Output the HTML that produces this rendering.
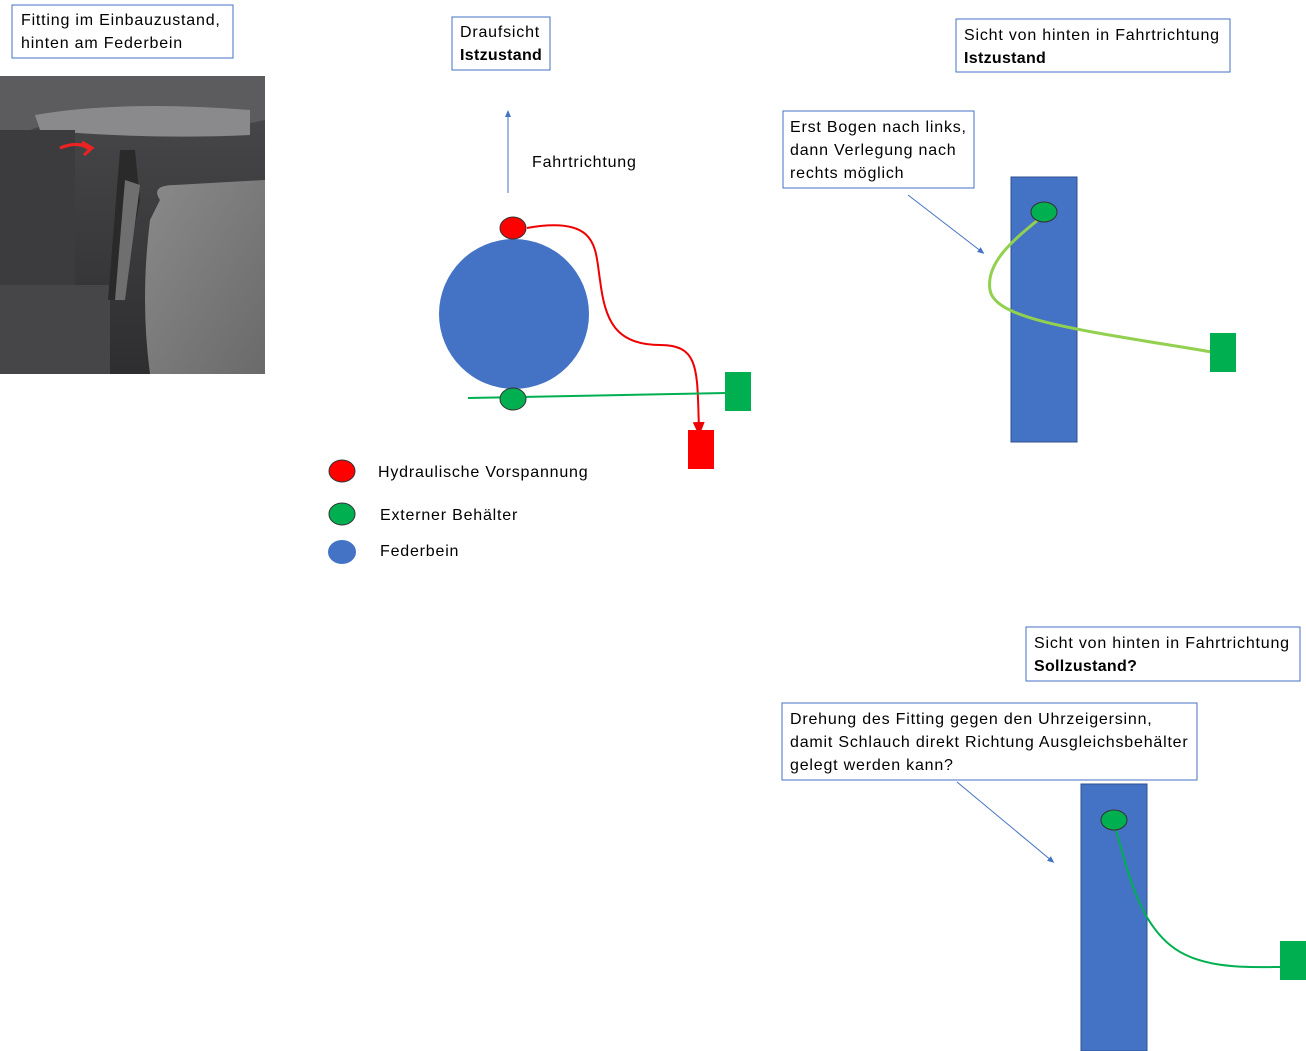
<!DOCTYPE html>
<html><head><meta charset="utf-8"><style>
body{margin:0;background:#fff;}
svg{display:block;font-family:"Liberation Sans",sans-serif;}
.t{font-size:16px;fill:#000;letter-spacing:0.8px;}
.b{font-weight:bold;letter-spacing:0.3px;}
.box{fill:#fff;stroke:#4472c4;stroke-width:1;}
</style></head><body>
<svg width="1306" height="1051" viewBox="0 0 1306 1051">
<defs>
<linearGradient id="g1" x1="0" y1="0" x2="0" y2="1"><stop offset="0" stop-color="#4a4a4c"/><stop offset="1" stop-color="#2e2e30"/></linearGradient>
<linearGradient id="g2" x1="0" y1="0" x2="1" y2="1"><stop offset="0" stop-color="#8a8a8a"/><stop offset="1" stop-color="#6a6a6a"/></linearGradient>
<marker id="ab" markerWidth="8" markerHeight="8" refX="4" refY="4" orient="auto"><path d="M0,1 L7,4 L0,7z" fill="#4472c4"/></marker>
<marker id="ar" markerWidth="8" markerHeight="8" refX="4" refY="4" orient="auto"><path d="M0,1 L7,4 L0,7z" fill="#e00"/></marker>
</defs>
<rect x="0" y="76" width="265" height="298" fill="url(#g1)"/>
<path d="M0,76 H265 V120 Q200,135 150,125 Q80,110 30,130 L0,135z" fill="#5c5c5e"/>
<path d="M35,115 Q120,100 250,110 L250,135 Q150,140 40,130z" fill="#8a8a8c"/>
<rect x="0" y="130" width="75" height="160" fill="#3c3c3e"/>
<rect x="0" y="285" width="110" height="89" fill="#464648"/>
<path d="M160,200 Q150,185 175,185 L265,180 V374 H150 Q140,300 150,220z" fill="url(#g2)"/>
<path d="M120,150 L135,150 L140,200 L120,300 L108,300z" fill="#2a2a2a"/>
<path d="M125,180 L140,185 L125,300 L115,300z" fill="#6f6f6f"/>
<path d="M60,148 Q80,140 90,150" stroke="#e22" stroke-width="3" fill="none"/>
<path d="M82,142 L92,148 L84,155" stroke="#e22" stroke-width="3" fill="none"/>
<rect class="box" x="12" y="5" width="221" height="53"/>
<text class="t" x="21" y="25">Fitting im Einbauzustand,</text>
<text class="t" x="21" y="48">hinten am Federbein</text>
<rect class="box" x="452" y="17" width="98" height="53"/>
<text class="t" x="460" y="37">Draufsicht</text>
<text class="t b" x="460" y="60">Istzustand</text>
<rect class="box" x="956" y="19" width="274" height="53"/>
<text class="t" x="964" y="40">Sicht von hinten in Fahrtrichtung</text>
<text class="t b" x="964" y="63">Istzustand</text>
<rect class="box" x="783" y="111" width="191" height="77"/>
<text class="t" x="790" y="132">Erst Bogen nach links,</text>
<text class="t" x="790" y="155">dann Verlegung nach</text>
<text class="t" x="790" y="178">rechts möglich</text>
<rect class="box" x="1026" y="627" width="274" height="54"/>
<text class="t" x="1034" y="648">Sicht von hinten in Fahrtrichtung</text>
<text class="t b" x="1034" y="671">Sollzustand?</text>
<rect class="box" x="782" y="703" width="415" height="77"/>
<text class="t" x="790" y="724">Drehung des Fitting gegen den Uhrzeigersinn,</text>
<text class="t" x="790" y="747">damit Schlauch direkt Richtung Ausgleichsbehälter</text>
<text class="t" x="790" y="770">gelegt werden kann?</text>
<line x1="508" y1="193" x2="508" y2="113" stroke="#4472c4" stroke-width="1" marker-end="url(#ab)"/>
<text class="t" x="532" y="167">Fahrtrichtung</text>
<circle cx="514" cy="314" r="75" fill="#4472c4"/>
<path d="M527,228 C600,215 595,250 600,280 C605,320 615,345 660,345 C700,345 697,370 699,430" stroke="#e00" stroke-width="2" fill="none" marker-end="url(#ar)"/>
<ellipse cx="513" cy="228" rx="13" ry="11" fill="#f00" stroke="#333" stroke-width="1"/>
<line x1="468" y1="398" x2="726" y2="393" stroke="#00b050" stroke-width="2"/>
<ellipse cx="513" cy="399" rx="13" ry="11" fill="#00b050" stroke="#333" stroke-width="1"/>
<rect x="725" y="372" width="26" height="39" fill="#00b050"/>
<rect x="688" y="430" width="26" height="39" fill="#f00"/>
<ellipse cx="342" cy="471" rx="13" ry="11" fill="#f00" stroke="#333"/>
<text class="t" x="378" y="477">Hydraulische Vorspannung</text>
<ellipse cx="342" cy="514" rx="13" ry="11" fill="#00b050" stroke="#333"/>
<text class="t" x="380" y="520">Externer Behälter</text>
<ellipse cx="342" cy="552" rx="14" ry="12" fill="#4472c4"/>
<text class="t" x="380" y="556">Federbein</text>
<rect x="1011" y="177" width="66" height="265" fill="#4472c4" stroke="#2f528f"/>
<line x1="908" y1="195" x2="982" y2="252" stroke="#4472c4" stroke-width="1" marker-end="url(#ab)"/>
<path d="M1044,215 C1020,235 985,260 990,290 C995,320 1080,330 1212,352" stroke="#92d050" stroke-width="3" fill="none"/>
<ellipse cx="1044" cy="212" rx="13" ry="10" fill="#00b050" stroke="#333"/>
<rect x="1210" y="333" width="26" height="39" fill="#00b050"/>
<rect x="1081" y="784" width="66" height="267" fill="#4472c4" stroke="#2f528f"/>
<line x1="957" y1="782" x2="1052" y2="861" stroke="#4472c4" stroke-width="1" marker-end="url(#ab)"/>
<path d="M1116,830 C1130,880 1140,920 1170,945 C1200,970 1250,967 1282,967" stroke="#00b050" stroke-width="2" fill="none"/>
<ellipse cx="1114" cy="820" rx="13" ry="10" fill="#00b050" stroke="#333"/>
<rect x="1280" y="941" width="26" height="39" fill="#00b050"/>
</svg>
</body></html>
